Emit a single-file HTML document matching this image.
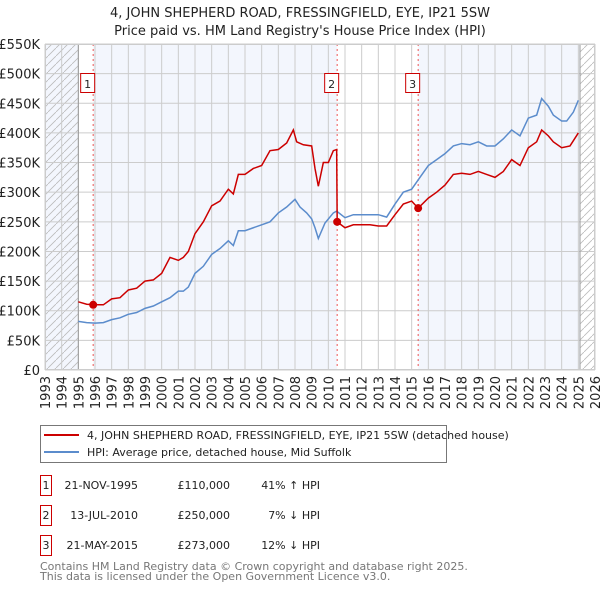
<!DOCTYPE html>
<html><head><meta charset="utf-8"><style>
body{margin:0;background:#fff;font-family:"DejaVu Sans","Liberation Sans",sans-serif}
svg text{font-family:"DejaVu Sans","Liberation Sans",sans-serif}
</style></head><body>
<svg id="c" width="600" height="590" viewBox="0 0 600 590" xmlns="http://www.w3.org/2000/svg">
<defs><pattern id="h" width="8" height="8" patternUnits="userSpaceOnUse"><path d="M-2,10 L10,-2" stroke="#bbb" stroke-width="0.8"/></pattern></defs>
<text x="300" y="17" text-anchor="middle" font-size="13" fill="#222">4, JOHN SHEPHERD ROAD, FRESSINGFIELD, EYE, IP21 5SW</text>
<text x="300" y="35" text-anchor="middle" font-size="13" fill="#222">Price paid vs. HM Land Registry's House Price Index (HPI)</text>
<g id="plot"></g>
<g>
<rect x="40.5" y="425.5" width="406" height="37" fill="#fff" stroke="#777"/>
<line x1="44" y1="435" x2="79" y2="435" stroke="#cc0000" stroke-width="2"/>
<text x="87" y="439" font-size="11" fill="#222">4, JOHN SHEPHERD ROAD, FRESSINGFIELD, EYE, IP21 5SW (detached house)</text>
<line x1="44" y1="452" x2="79" y2="452" stroke="#5b8ccc" stroke-width="2"/>
<text x="87" y="456" font-size="11" fill="#222">HPI: Average price, detached house, Mid Suffolk</text>
</g>
<g font-size="11" fill="#222">
<rect x="40.5" y="475.5" width="11" height="20" fill="#fff" stroke="#cc0000"/><text x="46" y="489" text-anchor="middle">1</text>
<text x="138" y="489" text-anchor="end">21-NOV-1995</text><text x="230" y="489" text-anchor="end">£110,000</text><text x="320" y="489" text-anchor="end">41% ↑ HPI</text>
<rect x="40.5" y="505.5" width="11" height="20" fill="#fff" stroke="#cc0000"/><text x="46" y="519" text-anchor="middle">2</text>
<text x="138" y="519" text-anchor="end">13-JUL-2010</text><text x="230" y="519" text-anchor="end">£250,000</text><text x="320" y="519" text-anchor="end">7% ↓ HPI</text>
<rect x="40.5" y="535.5" width="11" height="20" fill="#fff" stroke="#cc0000"/><text x="46" y="549" text-anchor="middle">3</text>
<text x="138" y="549" text-anchor="end">21-MAY-2015</text><text x="230" y="549" text-anchor="end">£273,000</text><text x="320" y="549" text-anchor="end">12% ↓ HPI</text>
</g>
<text x="40" y="570" font-size="11" fill="#777">Contains HM Land Registry data © Crown copyright and database right 2025.</text>
<text x="40" y="580" font-size="11" fill="#777">This data is licensed under the Open Government Licence v3.0.</text>
</svg>
<script>
const hpiYears=[1995.0,1995.5,1996,1996.5,1997,1997.5,1998,1998.5,1999,1999.5,2000,2000.5,2001,2001.3,2001.6,2002,2002.5,2003,2003.5,2004,2004.3,2004.6,2005,2005.5,2006,2006.5,2007,2007.5,2008,2008.3,2008.7,2009.0,2009.2,2009.4,2009.8,2010.3,2010.5,2011,2011.5,2012,2012.5,2013,2013.5,2014,2014.5,2015,2015.5,2016,2016.5,2017,2017.5,2018,2018.5,2019,2019.5,2020,2020.5,2021,2021.5,2022,2022.5,2022.8,2023.2,2023.5,2024,2024.3,2024.7,2025.0];
const hpiValues=[82,80,79,80,85,88,94,97,104,108,115,122,133,133,140,163,175,195,205,218,210,235,235,240,245,250,265,275,288,275,265,255,240,222,248,265,268,257,262,262,262,262,258,280,300,305,325,345,355,365,378,382,380,385,378,378,390,405,395,425,430,458,445,430,420,420,435,455];
const priceYears=[1995.0,1995.5,1995.9,1996.5,1997,1997.5,1998,1998.5,1999,1999.5,2000,2000.5,2001,2001.3,2001.6,2002,2002.5,2003,2003.5,2004,2004.3,2004.6,2005,2005.5,2006,2006.5,2007,2007.5,2007.9,2008.1,2008.5,2009.0,2009.2,2009.4,2009.7,2010.0,2010.3,2010.5,2010.53,2011,2011.5,2012,2012.5,2013,2013.5,2014,2014.5,2015,2015.39,2016,2016.5,2017,2017.5,2018,2018.5,2019,2019.5,2020,2020.5,2021,2021.5,2022,2022.5,2022.8,2023.2,2023.5,2024,2024.5,2025.0];
const priceValues=[115,111,110,110,120,122,135,138,150,152,163,190,185,190,200,230,250,277,285,305,297,330,330,340,345,370,372,383,405,385,380,378,340,310,350,350,370,372,250,240,245,245,245,243,243,262,280,285,273,290,300,312,330,332,330,335,330,325,335,355,345,375,385,405,395,385,375,378,400];
const saleYears=[1995.89,2010.53,2015.39];
const saleValues=[110,250,273];
const saleLabels=["1","2","3"];
const yTicks=[0,50,100,150,200,250,300,350,400,450,500,550];
const yTickLabels=["£0","£50K","£100K","£150K","£200K","£250K","£300K","£350K","£400K","£450K","£500K","£550K"];
const xTicks=[1993,1994,1995,1996,1997,1998,1999,2000,2001,2002,2003,2004,2005,2006,2007,2008,2009,2010,2011,2012,2013,2014,2015,2016,2017,2018,2019,2020,2021,2022,2023,2024,2025,2026];

const X0=45,X1=595,Y0=370,Y1=44;
const xs=y=>X0+(y-1993)*(X1-X0)/33;
const ys=v=>Y0-v*(Y0-Y1)/550;
const NS="http://www.w3.org/2000/svg";
const g=document.getElementById('plot');
function mk(t,a,p){const e=document.createElementNS(NS,t);for(const k in a)e.setAttribute(k,a[k]);(p||g).appendChild(e);return e;}

let e;
e=mk('rect',{x:X0,y:Y1,width:X1-X0,height:Y0-Y1,fill:'#f3f6fd'});


e=mk('rect',{x:xs(1995),y:Y1,width:xs(saleYears[0])-xs(1995),height:Y0-Y1,fill:'#fff'});


e=mk('rect',{x:xs(saleYears[1]),y:Y1,width:xs(saleYears[2])-xs(saleYears[1]),height:Y0-Y1,fill:'#fff'});


e=mk('rect',{x:X0,y:Y1,width:xs(1995)-X0,height:Y0-Y1,fill:'url(#h)'});


e=mk('rect',{x:xs(2025.1),y:Y1,width:X1-xs(2025.1),height:Y0-Y1,fill:'#fff'});


e=mk('rect',{x:xs(2025.1),y:Y1,width:X1-xs(2025.1),height:Y0-Y1,fill:'url(#h)'});



yTicks.forEach((v,i)=>{
  e=mk('line',{x1:X0,x2:X1,y1:ys(v),y2:ys(v),stroke:'#cccccc','stroke-width':1});
  
  
  e=mk('text',{x:40,y:ys(v)+5,'text-anchor':'end','font-size':13,fill:'#222'});
  e.textContent=yTickLabels[i];
  
  
});
xTicks.forEach(yr=>{
  e=mk('line',{x1:xs(yr),x2:xs(yr),y1:Y1,y2:Y0,stroke:'#cccccc','stroke-width':1});
  
  
  e=mk('text',{x:0,y:0,'text-anchor':'end','font-size':13,fill:'#222',transform:`translate(${xs(yr)+5},376) rotate(-90)`});
  e.textContent=yr;
  
  
});
e=mk('line',{x1:xs(1995),x2:xs(1995),y1:Y1,y2:Y0,stroke:'#999','stroke-width':1});


e=mk('line',{x1:xs(2025.1),x2:xs(2025.1),y1:Y1,y2:Y0,stroke:'#999','stroke-width':1});



saleYears.forEach((yr,i)=>{
  e=mk('line',{x1:xs(yr),x2:xs(yr),y1:Y1,y2:Y0,stroke:'#ee5555','stroke-width':1,'stroke-dasharray':'2,3'});
  
  
});

e=mk('polyline',{points:hpiYears.map((y,i)=>xs(y)+','+ys(hpiValues[i])).join(' '),fill:'none',stroke:'#5b8ccc','stroke-width':1.5});


e=mk('polyline',{points:priceYears.map((y,i)=>xs(y)+','+ys(priceValues[i])).join(' '),fill:'none',stroke:'#cc0000','stroke-width':1.5});



saleYears.forEach((yr,i)=>{
  e=mk('circle',{cx:xs(yr),cy:ys(saleValues[i]),r:4,fill:'#cc0000'});
  
  
  e=mk('rect',{x:xs(yr)-12.5,y:73.5,width:14,height:19,fill:'#fff',stroke:'#cc0000'});
  
  
  e=mk('text',{x:xs(yr)-5.5,y:88,'text-anchor':'middle','font-size':11,fill:'#222'});
  e.textContent=saleLabels[i];
  
  
});
e=mk('rect',{x:X0+0.5,y:Y1+0.5,width:X1-X0-1,height:Y0-Y1-1,fill:'none',stroke:'#cccccc'});


</script>
</body></html>
